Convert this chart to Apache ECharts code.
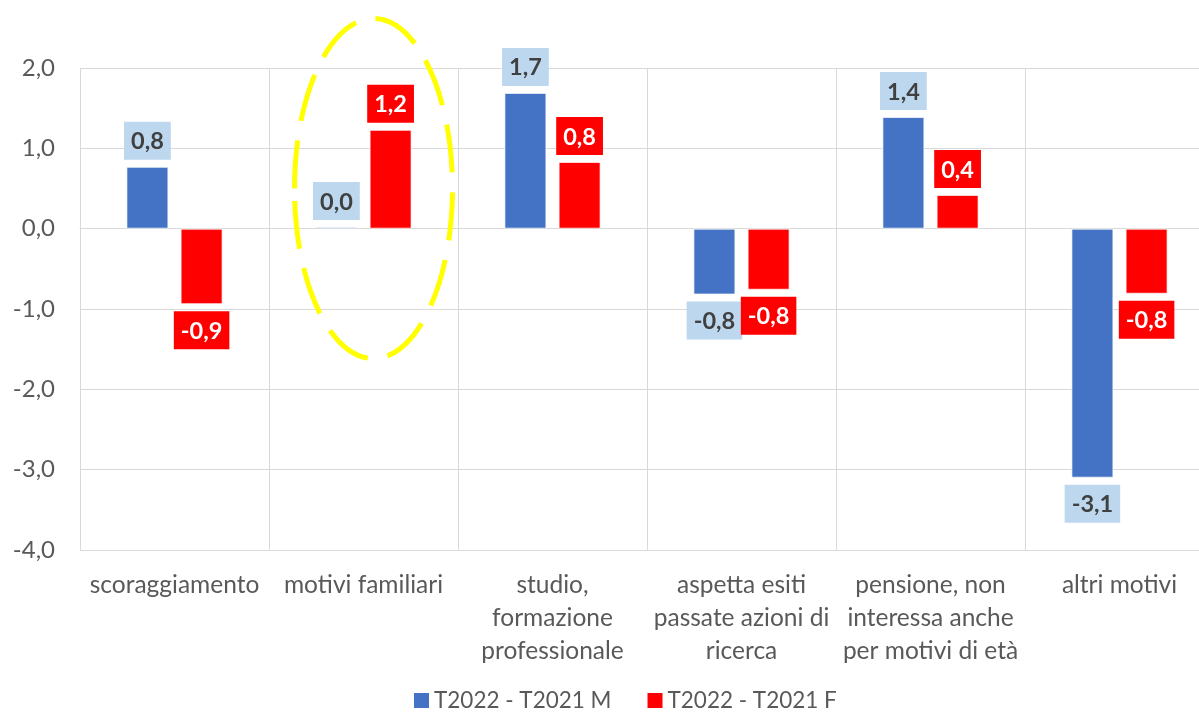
<!DOCTYPE html>
<html>
<head>
<meta charset="utf-8">
<title>T2022 - T2021</title>
<script src="https://cdn.jsdelivr.net/npm/echarts@6/dist/echarts.min.js"></script>
<style>
  html, body { margin: 0; padding: 0; background: #fff; }
  #main { width: 1199px; height: 712px; }
</style>
</head>
<body>
<div id="main"></div>
<script>
// categorie (con a capo come nel grafico originale)
var categories = [
  'scoraggiamento',
  'motivi familiari',
  'studio,\nformazione\nprofessionale',
  'aspetta esiti\npassate azioni di\nricerca',
  'pensione, non\ninteressa anche\nper motivi di età',
  'altri motivi'
];
var seriesNames = ['T2022 - T2021 M', 'T2022 - T2021 F'];
var valuesM = [0.77, 0.02, 1.69, -0.82, 1.39, -3.10];
var valuesF = [-0.94, 1.23, 0.83, -0.76, 0.42, -0.81];

var fontFamily = 'Lato, "Open Sans", sans-serif';

function fmt(v) {
  return v.toFixed(1).replace('.', ',');
}

// posizione etichetta sopra/sotto a seconda del segno
function withLabels(values) {
  return values.map(function (v) {
    return { value: v, label: { position: v < 0 ? 'bottom' : 'top' } };
  });
}

var chart = echarts.init(document.getElementById('main'));

var option = {
  animation: false,
  textStyle: { fontFamily: fontFamily },
  grid: {
    left: 80,
    right: -15,
    top: 68,
    bottom: 162,
    containLabel: false,
    outerBoundsMode: 'none'
  },
  legend: {
    data: seriesNames,
    left: 409,
    top: 684,
    icon: 'rect',
    itemWidth: 15,
    itemHeight: 15,
    itemGap: 36,
    itemStyle: { borderWidth: 0 },
    textStyle: { fontSize: 22.5, color: '#595959', fontFamily: fontFamily }
  },
  xAxis: {
    type: 'category',
    data: categories,
    axisTick: { show: false },
    axisLine: { lineStyle: { color: '#D9D9D9', width: 1 } },
    splitLine: { show: true, interval: 0, lineStyle: { color: '#D9D9D9', width: 1 } },
    axisLabel: {
      interval: 0,
      margin: 19,
      fontSize: 24.5,
      lineHeight: 33,
      color: '#595959',
      fontFamily: fontFamily
    }
  },
  yAxis: {
    type: 'value',
    min: -4,
    max: 2,
    interval: 1,
    axisLine: { show: false },
    axisTick: { show: false },
    splitLine: { lineStyle: { color: '#D9D9D9', width: 1 } },
    axisLabel: {
      margin: 25,
      fontSize: 24,
      color: '#595959',
      fontFamily: fontFamily,
      formatter: function (v) { return fmt(v); }
    }
  },
  series: [
    {
      name: seriesNames[0],
      type: 'bar',
      barWidth: 42,
      barGap: '29%',
      data: withLabels(valuesM),
      itemStyle: { color: '#4472C4', borderColor: 'rgba(255,255,255,0.7)', borderWidth: 1 },
      label: {
        show: true,
        distance: 7,
        fontSize: 23.5,
        fontWeight: 'bold',
        fontFamily: fontFamily,
        color: '#404040',
        backgroundColor: '#BDD7EE',
        padding: [8, 7, 6, 7],
        formatter: function (p) { return fmt(p.value); }
      }
    },
    {
      name: seriesNames[1],
      type: 'bar',
      barWidth: 42,
      data: withLabels(valuesF),
      itemStyle: { color: '#FF0000', borderColor: 'rgba(255,255,255,0.7)', borderWidth: 1 },
      label: {
        show: true,
        distance: 7,
        fontSize: 23.5,
        fontWeight: 'bold',
        fontFamily: fontFamily,
        color: '#FFFFFF',
        backgroundColor: '#FF0000',
        padding: [8, 7, 6, 7],
        formatter: function (p) { return fmt(p.value); }
      }
    }
  ]
};

chart.setOption(option);

// ellisse gialla tratteggiata attorno a "motivi familiari"
var c = chart.convertToPixel({ xAxisIndex: 0, yAxisIndex: 0 }, [1, 0.5]);
chart.setOption({
  graphic: [{
    type: 'ellipse',
    z: 100,
    shape: { cx: c[0] + 10, cy: c[1], rx: 79, ry: 170 },
    style: {
      fill: 'none',
      stroke: '#FFFF00',
      lineWidth: 5,
      lineDash: [48, 20]
    }
  }]
});
</script>
</body>
</html>
